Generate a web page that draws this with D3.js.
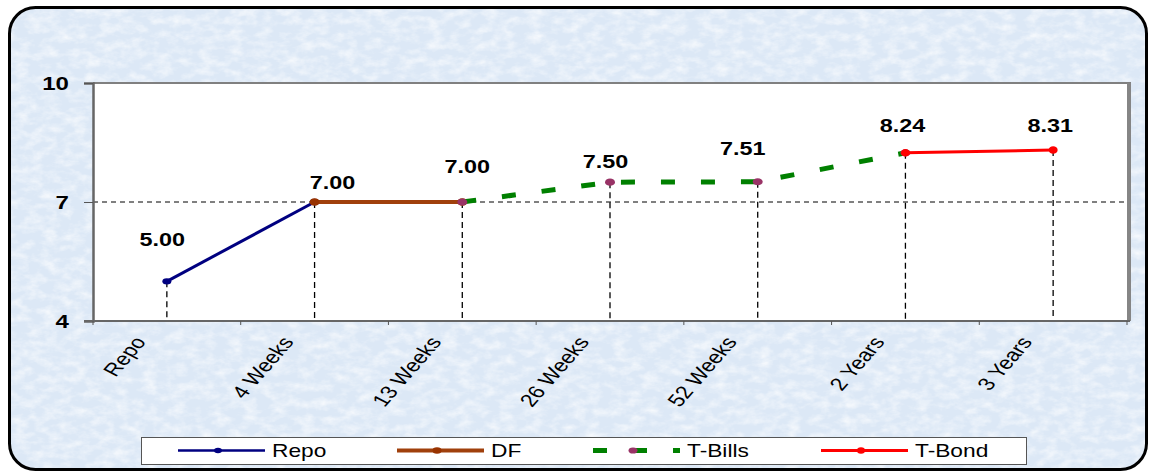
<!DOCTYPE html>
<html>
<head>
<meta charset="utf-8">
<script src="https://cdn.jsdelivr.net/npm/d3@7"></script>
<style>
  html, body { margin: 0; padding: 0; background: #ffffff; }
  svg { display: block; }
  text { font-family: Arial, "Liberation Sans", sans-serif; fill: #000; }
</style>
</head>
<body>
<svg id="chart" width="1152" height="472"></svg>
<script>
// ---------- data ----------
const categories = ["Repo", "4 Weeks", "13 Weeks", "26 Weeks", "52 Weeks", "2 Years", "3 Years"];
const repoValues   = [5.00, 7.00, null, null, null, null, null];
const dfValues     = [null, 7.00, 7.00, null, null, null, null];
const tBillValues  = [null, null, 7.00, 7.50, 7.51, 8.24, null];
const tBondValues  = [null, null, null, null, null, 8.24, 8.31];
const labelValues  = [5.00, 7.00, 7.00, 7.50, 7.51, 8.24, 8.31];
const yTickValues  = [4, 7, 10];
const seriesNames  = ["Repo", "DF", "T-Bills", "T-Bond"];

// ---------- layout / style (not data) ----------
const labelNudge = [[-4.5, -35], [18, -13], [5, -29], [-4.5, -14], [-15, -27], [-3, -21], [-3, -18]];
const SX = 1.3; // horizontal stretch of the original text
const plot = { left: 93, right: 1128, top: 83, bottom: 321 };
const styles = {
  "Repo":    { color: "#000080", width: 3,   dash: null,    marker: "#000080", rx: 4.5, ry: 3.2, legW: 2.5 },
  "DF":      { color: "#A0400C", width: 4,   dash: null,    marker: "#993300", rx: 5,   ry: 3.8, legW: 4 },
  "T-Bills": { color: "#008000", width: 5,   dash: "14,26", marker: "#993366", rx: 5,   ry: 3.6, legW: 5 },
  "T-Bond":  { color: "#FF0000", width: 3,   dash: null,    marker: "#FF0000", rx: 4.5, ry: 3.8, legW: 3 }
};

const svg = d3.select("#chart");
const defs = svg.append("defs");

// background texture (subtle, fine)
const filt = defs.append("filter").attr("id", "tex").attr("x", 0).attr("y", 0).attr("width", "100%").attr("height", "100%");
filt.append("feTurbulence").attr("type", "fractalNoise").attr("baseFrequency", "0.07 0.12").attr("numOctaves", 4).attr("seed", 7).attr("result", "n");
filt.append("feColorMatrix").attr("in", "n").attr("type", "matrix")
  .attr("values", "0 0 0 0 1  0 0 0 0 1  0 0 0 0 1  0 0 0 1.3 -0.5").attr("result", "w");
filt.append("feComposite").attr("in", "w").attr("in2", "SourceAlpha").attr("operator", "in");

const filt2 = defs.append("filter").attr("id", "tex2").attr("x", 0).attr("y", 0).attr("width", "100%").attr("height", "100%");
filt2.append("feTurbulence").attr("type", "fractalNoise").attr("baseFrequency", "0.02 0.05").attr("numOctaves", 3).attr("seed", 2).attr("result", "n");
filt2.append("feColorMatrix").attr("in", "n").attr("type", "matrix")
  .attr("values", "0 0 0 0 0.72  0 0 0 0 0.8  0 0 0 0 0.92  0 0 0 1.0 -0.45").attr("result", "b");
filt2.append("feComposite").attr("in", "b").attr("in2", "SourceAlpha").attr("operator", "in");

const frame = { x: 9.5, y: 7.5, w: 1137, h: 462, r: 26 };
svg.append("rect").attr("x", frame.x).attr("y", frame.y).attr("width", frame.w).attr("height", frame.h)
  .attr("rx", frame.r).attr("fill", "#dce8f6");
svg.append("rect").attr("x", frame.x).attr("y", frame.y).attr("width", frame.w).attr("height", frame.h)
  .attr("rx", frame.r).attr("fill", "#000").attr("filter", "url(#tex2)");
svg.append("rect").attr("x", frame.x).attr("y", frame.y).attr("width", frame.w).attr("height", frame.h)
  .attr("rx", frame.r).attr("fill", "#000").attr("filter", "url(#tex)");
svg.append("rect").attr("x", frame.x).attr("y", frame.y).attr("width", frame.w).attr("height", frame.h)
  .attr("rx", frame.r).attr("fill", "none").attr("stroke", "#000").attr("stroke-width", 3);

// ---------- scales ----------
const x = d3.scaleBand().domain(categories).range([plot.left, plot.right - 1]).paddingInner(0).paddingOuter(0);
const cx = c => x(c) + x.bandwidth() / 2;
const y = d3.scaleLinear().domain([4, 10]).range([plot.bottom, plot.top]);

// plot area
svg.append("rect").attr("x", plot.left).attr("y", plot.top)
  .attr("width", plot.right - plot.left).attr("height", plot.bottom - plot.top).attr("fill", "#fff");
svg.append("line").attr("x1", plot.left).attr("x2", plot.right + 3).attr("y1", plot.top).attr("y2", plot.top)
  .attr("stroke", "#808080").attr("stroke-width", 2);
svg.append("line").attr("x1", plot.right + 1).attr("x2", plot.right + 1).attr("y1", plot.top).attr("y2", plot.bottom)
  .attr("stroke", "#858585").attr("stroke-width", 4);

// gridline at 7
svg.append("g").selectAll("line").data(yTickValues.filter(v => v !== 4 && v !== 10)).join("line")
  .attr("x1", plot.left).attr("x2", plot.right).attr("y1", d => y(d)).attr("y2", d => y(d))
  .attr("stroke", "#000").attr("stroke-width", 1).attr("stroke-dasharray", "5,4");

// drop lines
svg.append("g").selectAll("line").data(categories).join("line")
  .attr("x1", c => cx(c)).attr("x2", c => cx(c))
  .attr("y1", (c, i) => y(labelValues[i])).attr("y2", plot.bottom)
  .attr("stroke", "#000").attr("stroke-width", 1.3).attr("stroke-dasharray", "6,4");

// y axis
const yAxis = d3.axisLeft(y).tickValues(yTickValues).tickSize(9).tickPadding(0).tickFormat(d3.format("d"));
const yg = svg.append("g").attr("transform", `translate(${plot.left},0)`).call(yAxis);
yg.select(".domain").attr("stroke", "#666").attr("stroke-width", 2.5);
yg.selectAll(".tick line").attr("stroke", "#555").attr("stroke-width", 1);
yg.selectAll(".tick text")
  .attr("x", null).attr("dy", null)
  .attr("text-anchor", "end")
  .attr("transform", `translate(-24,6.5) scale(${SX},1)`)
  .style("font-size", "18.5px").style("font-weight", "bold").attr("fill", "#000");

// x axis (labels via axis, ticks at band edges)
const xAxis = d3.axisBottom(x).tickSize(0).tickPadding(0);
const xg = svg.append("g").attr("transform", `translate(0,${plot.bottom})`).call(xAxis);
xg.select(".domain").remove();
xg.selectAll(".tick text")
  .attr("y", null).attr("dy", null)
  .attr("text-anchor", "end")
  .attr("transform", `translate(-20,21) scale(${SX},1) rotate(-56)`)
  .style("font-size", "18px").attr("fill", "#000");
const edges = categories.map(c => x(c)).concat([x.range()[1]]);
svg.append("line").attr("x1", plot.left - 9).attr("x2", plot.right + 2).attr("y1", plot.bottom).attr("y2", plot.bottom)
  .attr("stroke", "#666").attr("stroke-width", 2);
svg.append("g").selectAll("line").data(edges).join("line")
  .attr("x1", d => d).attr("x2", d => d).attr("y1", plot.bottom).attr("y2", plot.bottom + 4)
  .attr("stroke", "#555").attr("stroke-width", 1);

// ---------- series ----------
const seriesData = [repoValues, dfValues, tBillValues, tBondValues];
const lineGen = d3.line().defined(d => d.v !== null).x(d => cx(d.c)).y(d => y(d.v));
seriesNames.forEach((name, si) => {
  const st = styles[name];
  const pts = categories.map((c, i) => ({ c, v: seriesData[si][i] }));
  svg.append("path").datum(pts).attr("d", lineGen).attr("fill", "none")
    .attr("stroke", st.color).attr("stroke-width", st.width)
    .attr("stroke-dasharray", st.dash).attr("stroke-linecap", "butt");
  svg.append("g").selectAll("ellipse").data(pts.filter(d => d.v !== null)).join("ellipse")
    .attr("cx", d => cx(d.c)).attr("cy", d => y(d.v)).attr("rx", st.rx).attr("ry", st.ry)
    .attr("fill", st.marker);
});

// data labels
svg.append("g").selectAll("text").data(categories).join("text")
  .attr("transform", (c, i) => `translate(${cx(c) + labelNudge[i][0]},${y(labelValues[i]) + labelNudge[i][1]}) scale(${SX},1)`)
  .attr("text-anchor", "middle").style("font-size", "18px").style("font-weight", "bold")
  .text((c, i) => labelValues[i].toFixed(2));

// ---------- legend ----------
const legend = { x: 141.5, y: 437.5, w: 885, h: 27 };
svg.append("rect").attr("x", legend.x).attr("y", legend.y).attr("width", legend.w).attr("height", legend.h)
  .attr("fill", "#fff").attr("stroke", "#555").attr("stroke-width", 1);
const legX = [178, 397, 593, 821];
const legY = 450.5;
seriesNames.forEach((name, i) => {
  const st = styles[name];
  const g = svg.append("g");
  g.append("line").attr("x1", legX[i]).attr("x2", legX[i] + 87).attr("y1", legY).attr("y2", legY)
    .attr("stroke", st.color).attr("stroke-width", st.legW).attr("stroke-dasharray", st.dash);
  g.append("ellipse").attr("cx", legX[i] + 40).attr("cy", legY).attr("rx", st.rx - 0.5).attr("ry", st.ry - 0.5)
    .attr("fill", st.marker);
  g.append("text").attr("transform", `translate(${legX[i] + 94},457) scale(${SX},1)`)
    .style("font-size", "17.5px").text(name);
});
</script>
</body>
</html>
